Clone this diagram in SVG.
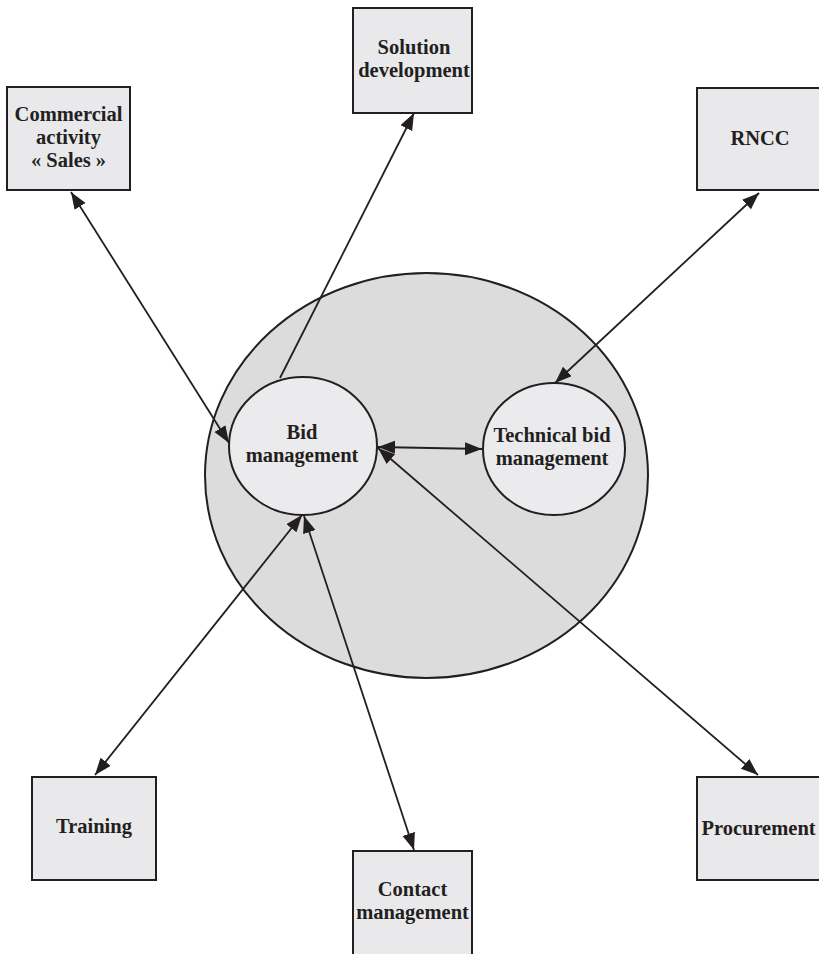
<svg xmlns="http://www.w3.org/2000/svg" width="819" height="954" viewBox="0 0 819 954">
  <style>
    .box { fill: #e9e9eb; stroke: #231f20; stroke-width: 2; }
    .outer { fill: #dcdcdd; stroke: #231f20; stroke-width: 2; }
    .inner { fill: #ebebed; stroke: #231f20; stroke-width: 2; }
    .lbl { font-family: "Liberation Serif", "Times New Roman", serif; font-weight: bold; font-size: 20.5px; fill: #231f20; text-anchor: middle; }
    .link { stroke: #231f20; stroke-width: 1.8; fill: none; }
  </style>
  <defs>
    <marker id="arrow" markerUnits="userSpaceOnUse" markerWidth="18" markerHeight="14" refX="17" refY="6.5" orient="auto-start-reverse">
      <path d="M0,0 L17,6.5 L0,13 z" fill="#231f20"/>
    </marker>
  </defs>

  <!-- Bid department (container) -->
  <g id="bid-department">
    <ellipse class="outer" cx="426.5" cy="475.5" rx="221.5" ry="202.5"/>
  </g>

  <g id="bid-management">
    <ellipse class="inner" cx="303" cy="446" rx="74" ry="69"/>
    <text class="lbl" x="302" y="439">Bid</text>
    <text class="lbl" x="302" y="462">management</text>
  </g>

  <g id="technical-bid-management">
    <ellipse class="inner" cx="554" cy="449" rx="71" ry="66"/>
    <text class="lbl" x="552" y="442">Technical bid</text>
    <text class="lbl" x="552" y="465">management</text>
  </g>

  <g id="commercial-activity">
    <rect class="box" x="7" y="87" width="123" height="103"/>
    <text class="lbl" x="68.5" y="121">Commercial</text>
    <text class="lbl" x="68.5" y="144">activity</text>
    <text class="lbl" x="68.5" y="167">« Sales »</text>
  </g>

  <g id="solution-development">
    <rect class="box" x="353" y="8" width="119" height="105"/>
    <text class="lbl" x="414" y="54">Solution</text>
    <text class="lbl" x="414" y="77">development</text>
  </g>

  <g id="rncc">
    <rect class="box" x="697" y="88" width="130" height="102"/>
    <text class="lbl" x="760" y="145">RNCC</text>
  </g>

  <g id="training">
    <rect class="box" x="32" y="777" width="124" height="103"/>
    <text class="lbl" x="94" y="833">Training</text>
  </g>

  <g id="contact-management">
    <rect class="box" x="353" y="851" width="119" height="110"/>
    <text class="lbl" x="412.5" y="896">Contact</text>
    <text class="lbl" x="412.5" y="919">management</text>
  </g>

  <g id="procurement">
    <rect class="box" x="697" y="777" width="130" height="103"/>
    <text class="lbl" x="758.5" y="835">Procurement</text>
  </g>

  <!-- Connectors -->
  <g id="connectors">
    <line class="link" x1="71" y1="192" x2="229" y2="443" marker-start="url(#arrow)" marker-end="url(#arrow)"/>
    <line class="link" x1="280" y1="378" x2="414" y2="113" marker-end="url(#arrow)"/>
    <line class="link" x1="759" y1="193" x2="555" y2="383" marker-start="url(#arrow)" marker-end="url(#arrow)"/>
    <line class="link" x1="378" y1="447" x2="482" y2="449" marker-start="url(#arrow)" marker-end="url(#arrow)"/>
    <line class="link" x1="95" y1="775" x2="302" y2="515" marker-start="url(#arrow)" marker-end="url(#arrow)"/>
    <line class="link" x1="414" y1="850" x2="304" y2="516" marker-start="url(#arrow)" marker-end="url(#arrow)"/>
    <line class="link" x1="758" y1="775" x2="378" y2="448" marker-start="url(#arrow)" marker-end="url(#arrow)"/>
  </g>
</svg>
